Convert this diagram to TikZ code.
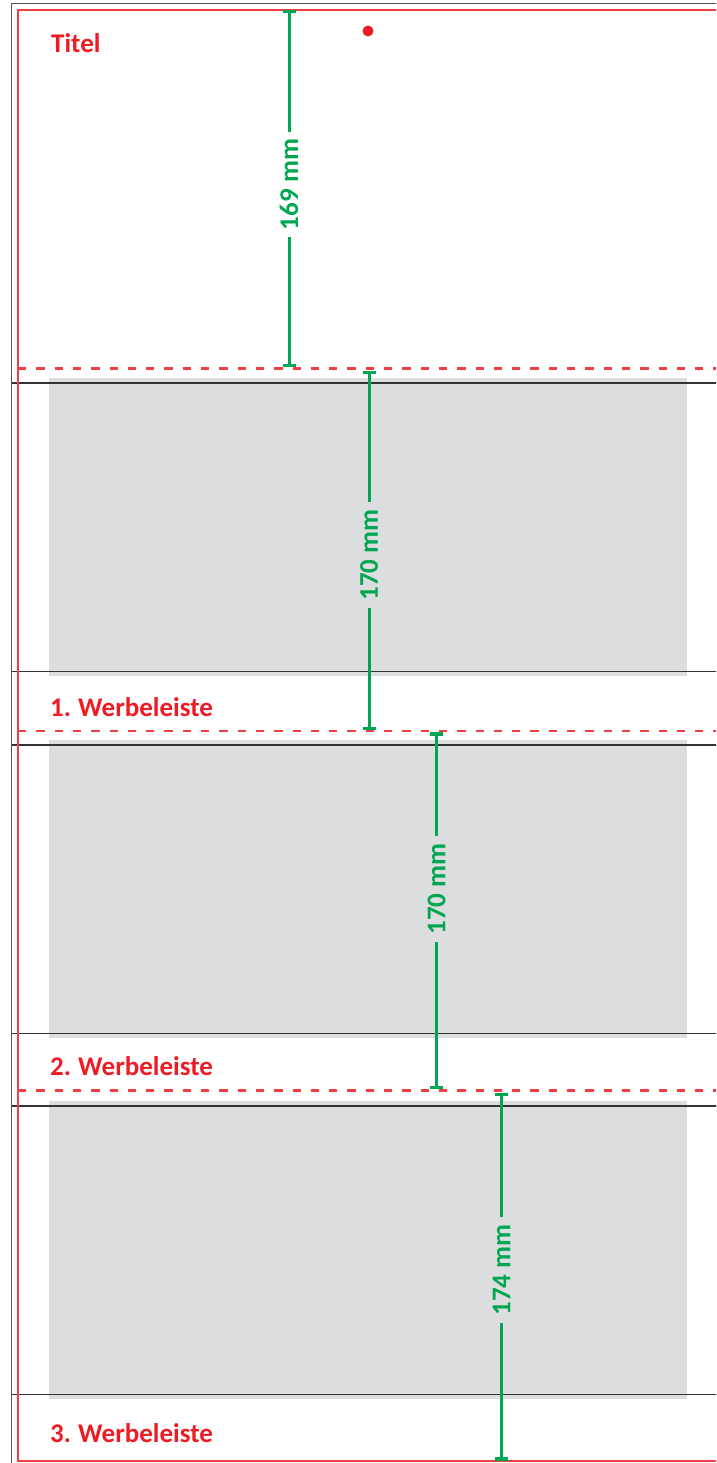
\documentclass[tikz,border=0pt]{standalone}
\usepackage{fontspec}
\setmainfont{Carlito}
\usetikzlibrary{arrows.meta}

\definecolor{signalred}{RGB}{237,28,36}
\definecolor{massgreen}{RGB}{0,166,81}
\definecolor{boxgray}{RGB}{220,221,222}
\definecolor{framegray}{RGB}{85,85,85}

\begin{document}
\begin{tikzpicture}[x=1pt, y=-1pt,
		leiste/.style={font=\fontsize{27}{32}\selectfont\bfseries, text=signalred, anchor=base west, inner sep=0pt},
		masslabel/.style={font=\fontsize{27}{32}\selectfont\bfseries, text=massgreen, rotate=90, inner xsep=7pt, inner ysep=0pt},
		massline/.style={draw=massgreen, line width=3pt, {Bar[width=13pt, line width=3.5pt]}-},
		trennlinie/.style={draw=signalred!85, line width=2.2pt, dash pattern=on 8.3pt off 10pt}]

		\useasboundingbox (0, 0) rectangle (716, 1463);
		\clip (0, 0) rectangle (716, 1463);

		% graue Felder mit Linien
		\foreach \t in {378, 740, 1101} {
			\fill[boxgray] (49, \t) rectangle (687, {\t+298});
			\draw[black!80, line width=1.2pt] (11.5, {\t+5}) -- (730, {\t+5});
			\draw[black!80, line width=1.2pt] (11.5, {\t+293.5}) -- (730, {\t+293.5});
		}

		% Rahmen
		\draw[framegray, line width=1.5pt] (11.5, 1470) -- (11.5, 3.3) -- (730, 3.3);
		\draw[signalred!85, line width=2pt] (17.5, 10) rectangle (730, 1460.5);

		\draw[trennlinie] (18, 368.5) -- (730, 368.5);
		\draw[trennlinie] (18, 730.7) -- (730, 730.7);
		\draw[trennlinie] (18, 1090.5) -- (730, 1090.5);

		\fill[signalred] (368, 31) circle[radius=5.5pt];

		% Beschriftung
		\node[leiste] (titel) at (51, 53) {Titel};
		\node[leiste] (leiste1) at (50, 716) {1.\kern-1pt{} Werbeleiste};
		\node[leiste] (leiste2) at (50, 1075.5) {2.\kern-1pt{} Werbeleiste};
		\node[leiste] (leiste3) at (50, 1442) {3.\kern-1pt{} Werbeleiste};

		% Masse
		\coordinate (m1oben) at (289, 10);
		\coordinate (m1unten) at (289, 367);
		\node[masslabel] (m1) at (289, 184.5) {169 mm};
		\draw[massline] (m1oben) -- (m1.east);
		\draw[massline] (m1unten) -- (m1.west);

		\coordinate (m2oben) at (369, 370.5);
		\coordinate (m2unten) at (369, 730);
		\node[masslabel] (m2) at (369, 555) {170 mm};
		\draw[massline] (m2oben) -- (m2.east);
		\draw[massline] (m2unten) -- (m2.west);

		\coordinate (m3oben) at (436.5, 732);
		\coordinate (m3unten) at (436.5, 1089);
		\node[masslabel] (m3) at (436.5, 889) {170 mm};
		\draw[massline] (m3oben) -- (m3.east);
		\draw[massline] (m3unten) -- (m3.west);

		\coordinate (m4oben) at (501.5, 1092.5);
		\coordinate (m4unten) at (501.5, 1460.5);
		\node[masslabel] (m4) at (501.5, 1270) {174 mm};
		\draw[massline] (m4oben) -- (m4.east);
		\draw[massline] (m4unten) -- (m4.west);
	\end{tikzpicture}
\end{document}
